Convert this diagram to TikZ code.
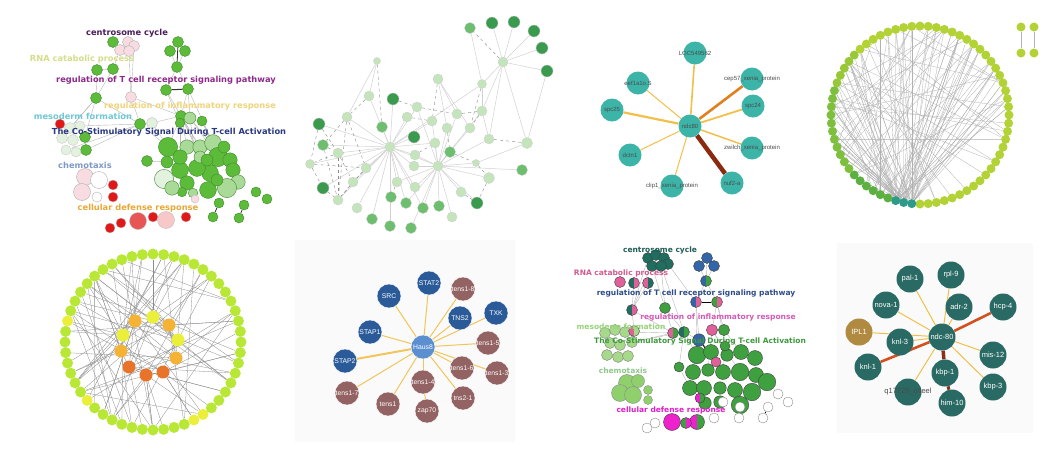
\documentclass[tikz,border=0pt]{standalone}
\usepackage{fontspec}
\setmainfont{DejaVu Sans}
\newfontfamily\arialfont{Liberation Sans}
\usetikzlibrary{positioning}
\pgfdeclarelayer{bg}
\pgfdeclarelayer{edges}
\pgfsetlayers{bg,edges,main}

\definecolor{goGreen}{HTML}{5DBB3A}
\definecolor{goGreenD}{HTML}{3F8A2E}
\definecolor{goLight}{HTML}{A9DA98}
\definecolor{goPale}{HTML}{E3F1DF}
\definecolor{goPink}{HTML}{F8DCE2}
\definecolor{goRed}{HTML}{E01818}
\definecolor{goRose}{HTML}{E85555}
\definecolor{goBlush}{HTML}{F8C8C8}
\definecolor{lbCentroA}{HTML}{4B1E5A}
\definecolor{lbRnaA}{HTML}{D5DE8A}
\definecolor{lbTcrA}{HTML}{8E2A8A}
\definecolor{lbInflA}{HTML}{F0D47C}
\definecolor{lbMesoA}{HTML}{70C8D4}
\definecolor{lbCostA}{HTML}{2B3A80}
\definecolor{lbChemA}{HTML}{7F9AC8}
\definecolor{lbDefA}{HTML}{E8A838}
\definecolor{lbCentroB}{HTML}{1E5E55}
\definecolor{lbRnaB}{HTML}{D45A8E}
\definecolor{lbTcrB}{HTML}{2E4C8A}
\definecolor{lbInflB}{HTML}{D45AB8}
\definecolor{lbMesoB}{HTML}{98D37A}
\definecolor{lbCostB}{HTML}{3E9A3E}
\definecolor{lbChemB}{HTML}{8FC88A}
\definecolor{lbDefB}{HTML}{E020C8}
\definecolor{cgTeal}{HTML}{1F6E60}
\definecolor{cgBlue}{HTML}{3366A8}
\definecolor{cgPink}{HTML}{E0609A}
\definecolor{cgGreen}{HTML}{3EA03E}
\definecolor{cgLime}{HTML}{A6D98A}
\definecolor{cgChem}{HTML}{8FD06C}
\definecolor{cgMag}{HTML}{EE22CC}
\definecolor{nwDark}{HTML}{3A9A4E}
\definecolor{nwMid}{HTML}{6DBE6E}
\definecolor{nwLight}{HTML}{C4E5BC}
\definecolor{xnTeal}{HTML}{3CB4A8}
\definecolor{xnGold}{HTML}{F2C04A}
\definecolor{xnOrange}{HTML}{E0801E}
\definecolor{xnBrown}{HTML}{8B2A10}
\definecolor{ringLime}{HTML}{B2D236}
\definecolor{ringTeal}{HTML}{2E9A8A}
\definecolor{ringGreen}{HTML}{5CB040}
\definecolor{ringMid}{HTML}{7EC03E}
\definecolor{ringLg}{HTML}{98C838}
\definecolor{hubLime}{HTML}{B8E835}
\definecolor{hubYellow}{HTML}{ECEF3A}
\definecolor{hubOrange}{HTML}{F5B335}
\definecolor{hubDeep}{HTML}{E8742A}
\definecolor{stBlue}{HTML}{2A5A98}
\definecolor{stSky}{HTML}{5B8FD0}
\definecolor{stBrown}{HTML}{936262}
\definecolor{stLink}{HTML}{F2C65A}
\definecolor{wbTeal}{HTML}{2A6A64}
\definecolor{wbGold}{HTML}{B08A40}
\definecolor{wbRed}{HTML}{D4501E}
\definecolor{wbBrown}{HTML}{8B2E1A}

\tikzset{
  dot/.style      = {circle, draw, line width=0.4pt, inner sep=0pt},
  gonode/.style   = {dot, draw=goGreenD, fill=goGreen},
  golink/.style   = {draw=black!28, line width=0.4pt},
  golabel/.style  = {font=\fontsize{8.3}{9}\selectfont\bfseries, inner sep=0pt},
  cgnode/.style   = {dot, draw=black!75, fill=cgGreen},
  cglabel/.style  = {font=\fontsize{7.5}{8}\selectfont\bfseries, inner sep=0pt},
  halfleft/.style = {path picture={\fill[#1] (path picture bounding box.south)
                     rectangle (path picture bounding box.north west);}},
  nwnode/.style   = {dot, draw=black!20, line width=0.3pt},
  nwline/.style   = {draw=black!18, line width=0.5pt},
  nwdash/.style   = {draw=black!45, dashed, line width=0.4pt},
  xndot/.style    = {circle, fill=xnTeal, inner sep=0pt, minimum size=23},
  xntext/.style   = {font=\arialfont\fontsize{6}{6}\selectfont, text=black!70, inner sep=0pt},
  xnlink/.style   = {draw=xnGold},
  ringdot/.style  = {circle, inner sep=0pt, minimum size=9},
  ringline/.style = {draw=black!30, line width=0.3pt},
  hubdot/.style   = {circle, inner sep=0pt, minimum size=11, fill=hubLime},
  hubline/.style  = {draw=black!45, line width=0.3pt},
  stdot/.style    = {circle, inner sep=0pt, minimum size=24, draw=white, line width=0.4pt},
  sttext/.style   = {font=\arialfont\fontsize{6.8}{7}\selectfont, text=white, inner sep=0pt},
  stlink/.style   = {draw=stLink, line width=1pt},
  wbdot/.style    = {circle, inner sep=0pt, minimum size=27, fill=wbTeal},
  wbtext/.style   = {font=\arialfont\fontsize{7.5}{8}\selectfont, text=white, inner sep=0pt},
  wblink/.style   = {draw=xnGold, line width=1pt},
}

\begin{document}
\begin{tikzpicture}[x=1pt, y=-1pt]
  \useasboundingbox (0,0) rectangle (1060,450);
  \begin{pgfonlayer}{bg}
    \fill[white] (0,0) rectangle (1060,450);
    \fill[black!2] (295,240) rectangle (515,442);
    \fill[black!2] (837,243) rectangle (1033,433);
  \end{pgfonlayer}

  % first enrichment map
  \foreach \x/\y/\s [count=\i] in {113/42/11, 178/42/11, 170/51/11, 185/51/11,
      177/67/11, 97/70/11, 113/69/11, 166/90/11, 188/89/11, 96/98/11, 140/124/11,
      181/116/11, 202/121/10, 85/137/11, 86/150/11, 147/161/11, 256/192/10,
      267/199/10, 219/203/10, 213/217/10, 244/205/10, 239/218/10}
    \node[gonode, minimum size=\s] (ga\i) at (\x,\y) {};
  \foreach \x/\y/\s/\c [count=\i] in {168/147/16/goGreen, 187/147/12/goLight,
      200/147/12/goLight, 213/143/14/goLight, 218/157/16/goGreen, 230/160/12/goGreen,
      233/170/12/goGreen, 238/182/12/goLight, 227/188/16/goLight, 208/190/14/goGreen,
      210/173/14/goGreen, 197/168/14/goGreen, 180/170/14/goGreen, 180/157/12/goGreen,
      167/162/10/goGreen, 187/183/12/goGreen, 193/193/8/goLight, 182/192/8/goGreen,
      200/157/10/goLight, 207/160/10/goGreen, 190/118/10/goLight, 180/123/8/goGreen,
      217/180/10/goGreen, 164/179/16/goPale, 172/188/12/goLight, 224/147/10/goGreen}
    \node[gonode, fill=\c, minimum size={1.2*\s}] (gc\i) at (\x,\y) {};
  \foreach \x/\y [count=\i] in {120/50, 128/42, 134/46, 129/51, 131/97}
    \node[dot, draw=black!30, fill=goPink, minimum size=11] (pk\i) at (\x,\y) {};
  \node[dot, draw=black!25, fill=goPale, minimum size=11] (pl1) at (152,123) {};
  \foreach \x/\y/\s [count=\i] in {70/128/11, 80/126/10, 62/138/11, 73/140/11,
      66/150/10, 76/152/10}
    \node[dot, draw=black!20, fill=goPale, minimum size=\s] (ms\i) at (\x,\y) {};
  \foreach \x/\y/\s/\c [count=\i] in {60/124/10/goRed, 113/185/10/goRed,
      113/197/10/goRed, 186/217/10/goRed, 153/217/10/goRed, 121/223/10/goRed,
      110/228/10/goRed, 138/221/17/goRose, 166/220/17/goBlush, 195/199/8/goPink}
    \node[dot, draw=black!25, fill=\c, minimum size=\s] (rd\i) at (\x,\y) {};
  \foreach \x/\y/\s/\c [count=\i] in {85/177/17/goPink, 99/180/17/white,
      82/192/17/goPink, 97/197/10/white}
    \node[dot, draw=black!30, fill=\c, minimum size=\s] (ch\i) at (\x,\y) {};

  \begin{pgfonlayer}{edges}
    \foreach \a/\b in {ga1/pk1, pk1/ga7, pk4/pk5, pk3/pk5, ga6/ga7, ga6/ga10,
        ga7/ga10, ga10/ga11, ga10/ms1, ga10/ms3, ga10/ga14, ga11/pl1, ga11/ms2,
        ga11/ga15, ga11/ms5, pl1/ga12, pl1/gc1, ga11/gc1, ga5/ga8, ga5/ga9, ga3/ga5,
        ga4/ga5, ga8/ga12, ga9/ga12, ga9/gc21, ga12/gc1, ga12/gc2, ga12/gc3, ga13/gc4,
        gc21/gc5, gc21/gc12, gc22/gc13, ga12/gc11, ga16/gc15, ga14/ga15, pk5/ga11,
        pk5/ga12, ga12/gc14, ga12/gc19, ga12/gc20, ga13/gc5, gc24/gc25, gc9/gc10,
        ms4/ms6, ga8/gc22, ga9/gc4, gc21/gc7}
      \draw[golink] (\a) -- (\b);
    \draw[black!80, line width=1pt] (ga8) -- (ga9);
    \draw[black!80, line width=0.8pt] (ga2) -- (ga5);
    \draw[black!80, line width=0.8pt] (ga19) -- (ga20);
    \draw[black!80, line width=0.8pt] (ga21) -- (ga22);
  \end{pgfonlayer}

  \node[golabel, text=lbCentroA] (l1a) at (127,33) {centrosome cycle};
  \node[golabel, text=lbRnaA] (l1b) at (82,59) {RNA catabolic process};
  \node[golabel, text=lbTcrA] (l1c) at (166,80) {regulation of T cell receptor signaling pathway};
  \node[golabel, text=lbInflA] (l1d) at (190,106) {regulation of inflammatory response};
  \node[golabel, text=lbMesoA] (l1e) at (83,116) {mesoderm formation};
  \node[golabel, text=lbCostA] (l1f) at (169,132) {The Co-Stimulatory Signal During T-cell Activation};
  \node[golabel, text=lbChemA] (l1g) at (85,165) {chemotaxis};
  \node[golabel, text=lbDefA] (l1h) at (138,208) {cellular defense response};

  % interaction network, shades of green
  \foreach \x/\y/\c/\s [count=\i] in {492/23/nwDark/12, 514/22/nwDark/12,
      534/31/nwDark/12, 542/48/nwDark/12, 547/71/nwDark/12, 470/28/nwMid/11,
      503/62/nwLight/10, 482/84/nwLight/9, 438/79/nwLight/10, 377/61/nwLight/7,
      369/96/nwLight/10, 393/99/nwDark/12, 347/117/nwLight/10, 319/124/nwDark/12,
      382/127/nwMid/11, 417/107/nwLight/10, 407/117/nwLight/10, 432/121/nwLight/10,
      457/114/nwLight/10, 482/111/nwLight/10, 470/128/nwLight/10, 447/128/nwLight/10,
      489/139/nwLight/10, 527/143/nwLight/11, 414/137/nwDark/12, 323/145/nwMid/11,
      390/147/nwLight/10, 415/155/nwLight/10, 435/143/nwLight/10, 450/152/nwMid/11,
      338/153/nwLight/10, 310/164/nwLight/9, 366/168/nwLight/10, 414/166/nwLight/10,
      438/166/nwLight/10, 476/163/nwLight/7, 522/170/nwMid/11, 353/182/nwLight/10,
      397/182/nwLight/10, 415/187/nwLight/10, 489/178/nwLight/11, 323/188/nwDark/12,
      461/192/nwLight/10, 338/200/nwLight/10, 391/197/nwMid/11, 406/203/nwMid/11,
      423/208/nwMid/11, 439/206/nwMid/11, 477/203/nwDark/12, 357/208/nwLight/10,
      372/219/nwMid/11, 452/217/nwLight/10, 390/226/nwMid/11, 411/228/nwMid/11}
    \node[nwnode, fill=\c, minimum size=\s] (nw\i) at (\x,\y) {};
  \begin{pgfonlayer}{edges}
    \foreach \a/\b in {7/1, 7/2, 7/3, 7/4, 7/5, 6/8, 7/8, 7/20, 7/23, 7/24, 8/20,
        8/27, 9/21, 9/19, 9/22, 10/11, 10/13, 11/27, 12/27, 13/27, 15/27, 16/27,
        17/27, 18/27, 25/27, 26/27, 28/27, 29/27, 31/27, 32/27, 33/27, 34/27, 38/27,
        39/27, 40/27, 44/27, 45/27, 46/27, 47/27, 50/27, 51/27, 53/27, 14/27, 42/27,
        35/16, 35/18, 35/19, 35/21, 35/22, 35/28, 35/29, 35/30, 35/34, 35/36, 35/39,
        35/40, 35/41, 35/43, 35/46, 35/47, 35/48, 35/49, 35/52, 35/54, 35/20, 35/37,
        35/23, 27/35, 24/36, 20/23, 5/24}
      \draw[nwline] (nw\a) -- (nw\b);
    \foreach \a/\b in {13/26, 13/33, 13/44, 31/32, 31/44, 32/33, 33/38, 38/44,
        26/31, 14/31, 14/32, 32/42, 42/44, 33/44, 11/13, 10/15, 8/21, 9/18, 19/20,
        20/21, 36/41, 23/24, 22/30, 30/36, 12/16, 16/19, 41/49, 43/49, 17/18,
        28/29, 39/45, 7/6, 26/44, 31/38}
      \draw[nwdash] (nw\a) -- (nw\b);
  \end{pgfonlayer}

  % star around ndc80
  \node[xndot, label={[xntext]center:ndc80}] (ndc) at (690,126) {};
  \node[xndot, label={[xntext]center:LOC549562}] (loc) at (695,53) {};
  \node[xndot, label={[xntext]center:eef1a1o.S}] (eef) at (638,83) {};
  \node[xndot, label={[xntext]center:cep57\_xenia\_protein}] (cep) at (752,79) {};
  \node[xndot, label={[xntext]center:spc25}] (spctf) at (612,110) {};
  \node[xndot, label={[xntext]center:spc24}] (spctt) at (753,106) {};
  \node[xndot, label={[xntext]center:dctn1}] (dct) at (630,155) {};
  \node[xndot, label={[xntext]center:zwilch\_xenia\_protein}] (zwi) at (752,148) {};
  \node[xndot, label={[xntext]center:clip1\_xenia\_protein}] (cli) at (672,186) {};
  \node[xndot, label={[xntext]center:nuf2-a}] (nuf) at (732,183) {};
  \begin{pgfonlayer}{edges}
    \draw[xnlink, line width=1.6pt] (ndc) -- (loc);
    \draw[xnlink, line width=1pt] (ndc) -- (eef);
    \draw[xnOrange, line width=2.6pt] (ndc) -- (cep);
    \draw[xnlink, line width=2.2pt] (ndc) -- (spctf);
    \draw[xnlink, line width=1.8pt] (ndc) -- (spctt);
    \draw[xnlink, line width=1pt] (ndc) -- (dct);
    \draw[xnlink, line width=1.5pt] (ndc) -- (zwi);
    \draw[xnlink, line width=1pt] (ndc) -- (cli);
    \draw[xnBrown, line width=4.5pt] (ndc) -- (nuf);
  \end{pgfonlayer}

  % circular layout, right
  \foreach \i in {0,...,67}{
    \ifnum\i<18 \def\rc{ringLime}\else
    \ifnum\i<21 \def\rc{ringTeal}\else
    \ifnum\i<27 \def\rc{ringGreen}\else
    \ifnum\i<38 \def\rc{ringMid}\else
    \ifnum\i<43 \def\rc{ringLg}\else \def\rc{ringLime}\fi\fi\fi\fi\fi
    \node[ringdot, fill=\rc] (cr\i) at ({920+89*cos(\i*(360/68))},{115+89*sin(\i*(360/68))}) {};
  }
  \node[ringdot, fill=ringLime] (pa) at (1021,27) {};
  \node[ringdot, fill=ringLime] (pb) at (1034,27) {};
  \node[ringdot, fill=ringLime] (pc) at (1021,53) {};
  \node[ringdot, fill=ringLime] (pd) at (1034,53) {};
  \begin{pgfonlayer}{edges}
    \pgfmathsetseed{11}
    \foreach \k in {1,...,75}{
      \pgfmathtruncatemacro\ia{18+mod(\k,3)}
      \pgfmathrandominteger\ib{24}{67}
      \draw[ringline] (cr\ia) -- (cr\ib);
    }
    \foreach \k in {1,...,45}{
      \pgfmathrandominteger\ia{21}{50}
      \pgfmathrandominteger\ic{14}{40}
      \pgfmathtruncatemacro\ib{mod(\ia+\ic,68)}
      \draw[ringline] (cr\ia) -- (cr\ib);
    }
    \draw[ringline, line width=0.6pt] (pa) -- (pc);
    \draw[ringline, line width=0.6pt] (pb) -- (pd);
  \end{pgfonlayer}

  % circular layout with hubs, left
  \foreach \i in {0,...,51}{
    \ifnum\i=8 \def\rc{hubYellow}\else
    \ifnum\i=9 \def\rc{hubYellow}\else
    \ifnum\i=20 \def\rc{hubYellow}\else
    \ifnum\i=28 \def\rc{hubYellow}\else \def\rc{hubLime}\fi\fi\fi\fi
    \node[hubdot, fill=\rc] (yr\i) at ({153+88*cos(\i*(360/52))},{342+88*sin(\i*(360/52))}) {};
  }
  \foreach \x/\y/\c [count=\i] in {135/321/hubOrange, 153/317/hubYellow,
      169/325/hubOrange, 123/335/hubYellow, 178/340/hubYellow, 121/351/hubOrange,
      176/358/hubOrange, 129/367/hubDeep, 146/375/hubDeep, 163/372/hubDeep}
    \node[hubdot, fill=\c, minimum size=13] (in\i) at (\x,\y) {};
  \begin{pgfonlayer}{edges}
    \pgfmathsetseed{5}
    \foreach \k in {1,...,70}{
      \pgfmathtruncatemacro\ia{mod(\k,10)+1}
      \pgfmathrandominteger\ib{0}{51}
      \draw[hubline] (in\ia) -- (yr\ib);
    }
    \foreach \k in {1,...,22}{
      \pgfmathrandominteger\ia{0}{51}
      \pgfmathrandominteger\ic{12}{38}
      \pgfmathtruncatemacro\ib{mod(\ia+\ic,52)}
      \draw[hubline] (yr\ia) -- (yr\ib);
    }
    \foreach \a/\b in {1/3, 2/5, 8/9, 9/10, 4/6, 6/8, 3/7}
      \draw[hubline] (in\a) -- (in\b);
  \end{pgfonlayer}

  % star around Haus8
  \node[stdot, fill=stSky, label={[sttext]center:Haus8}] (haus) at (423,347) {};
  \node[stdot, fill=stBlue, label={[sttext]center:STAT2}] (stat) at (429,283) {};
  \node[stdot, fill=stBlue, label={[sttext]center:SRC}] (src) at (389,296) {};
  \node[stdot, fill=stBlue, label={[sttext]center:STAP1}] (stapa) at (370,332) {};
  \node[stdot, fill=stBlue, label={[sttext]center:STAP2}] (stapb) at (345,361) {};
  \node[stdot, fill=stBlue, label={[sttext]center:TNS2}] (tns) at (460,318) {};
  \node[stdot, fill=stBlue, label={[sttext]center:TXK}] (txk) at (496,313) {};
  \node[stdot, fill=stBrown, label={[sttext]center:tens1-8}] (tea) at (463,289) {};
  \node[stdot, fill=stBrown, label={[sttext]center:tens1-5}] (teb) at (488,343) {};
  \node[stdot, fill=stBrown, label={[sttext]center:tens1-6}] (tec) at (462,368) {};
  \node[stdot, fill=stBrown, label={[sttext]center:tens1-3}] (ted) at (497,373) {};
  \node[stdot, fill=stBrown, label={[sttext]center:tens1-4}] (tee) at (423,382) {};
  \node[stdot, fill=stBrown, label={[sttext]center:tns2-1}] (tef) at (463,398) {};
  \node[stdot, fill=stBrown, label={[sttext]center:zap70}] (zap) at (427,411) {};
  \node[stdot, fill=stBrown, label={[sttext]center:tens1}] (teg) at (388,404) {};
  \node[stdot, fill=stBrown, label={[sttext]center:tens1-7}] (teh) at (347,393) {};
  \begin{pgfonlayer}{edges}
    \foreach \b in {stat, src, stapa, tns, txk, tea, teb, tec, ted, tee, tef, teg, teh}
      \draw[stlink] (haus) -- (\b);
    \draw[stlink, line width=2pt] (haus) -- (stapb);
    \draw[stlink] (tee) -- (zap);
  \end{pgfonlayer}

  % second enrichment map
  \foreach \x/\y [count=\i] in {648/258, 656/255, 664/258, 668/264, 652/266, 661/266}
    \node[cgnode, fill=cgTeal, minimum size=11] (ct\i) at (\x,\y) {};
  \foreach \x/\y [count=\i] in {707/258, 699/266, 714/266}
    \node[cgnode, fill=cgBlue, minimum size=11] (cb\i) at (\x,\y) {};
  \node[cgnode, fill=cgGreen, halfleft=cgBlue, minimum size=11] (cbp) at (706,281) {};
  \node[cgnode, fill=cgPink, minimum size=11] (cp1) at (620,282) {};
  \node[cgnode, fill=cgPink, halfleft=cgTeal, minimum size=11] (cp2) at (634,283) {};
  \node[cgnode, fill=cgTeal, halfleft=cgPink, minimum size=11] (cp3) at (648,283) {};
  \node[cgnode, fill=cgPink, halfleft=cgBlue, minimum size=11] (cq1) at (696,302) {};
  \node[cgnode, fill=cgPink, halfleft=cgGreen, minimum size=11] (cq2) at (717,302) {};
  \node[cgnode, fill=cgPink, halfleft=cgTeal, minimum size=11] (cr1) at (632,310) {};
  \node[cgnode, fill=cgGreen, minimum size=11] (cr2) at (665,308) {};
  \foreach \x/\y [count=\i] in {605/333, 615/330, 625/332, 610/343, 620/345,
      632/342, 607/355, 618/357, 628/356}
    \node[cgnode, draw=black!50, fill=cgLime, minimum size=11] (cm\i) at (\x,\y) {};
  \node[cgnode, fill=cgLime, halfleft=cgPink, minimum size=11] (cm10) at (634,331) {};
  \node[cgnode, fill=cgGreen, halfleft=cgPink, minimum size=11] (cs1) at (673,333) {};
  \node[cgnode, fill=cgGreen, halfleft=cgTeal, minimum size=11] (cs2) at (684,332) {};
  \node[cgnode, minimum size=10] (cg0) at (679,367) {};
  \foreach \x/\y/\s/\c [count=\i] in {697/355/14/cgGreen, 711/352/12/cgGreen,
      727/355/10/cgGreen, 741/352/12/cgGreen, 755/358/12/cgGreen, 693/372/12/cgGreen,
      708/370/10/cgGreen, 723/372/12/cgGreen, 740/372/14/cgGreen, 756/375/12/cgGreen,
      767/382/14/cgGreen, 690/388/12/cgGreen, 704/388/12/cgGreen, 720/388/10/cgGreen,
      735/390/12/cgGreen, 752/392/14/cgGreen, 705/403/10/cgGreen, 740/405/14/cgGreen,
      720/402/10/cgGreen, 699/340/10/cgBlue, 712/330/9/cgPink, 724/330/9/cgGreen,
      716/362/8/cgPink, 725/346/8/cgGreen}
    \node[cgnode, fill=\c, minimum size={1.25*\s}] (ck\i) at (\x,\y) {};
  \foreach \x/\y/\s [count=\i] in {627/383/17, 638/381/13, 620/393/17, 633/395/17,
      648/390/9, 648/400/9}
    \node[cgnode, draw=black!45, fill=cgChem, minimum size=\s] (cc\i) at (\x,\y) {};
  \node[cgnode, fill=cgGreen, halfleft=cgMag, minimum size=10] (cx1) at (700,398) {};
  \node[cgnode, fill=cgMag, minimum size=17] (cmg1) at (672,422) {};
  \node[cgnode, fill=cgGreen, halfleft=cgMag, minimum size=15] (cmg2) at (697,422) {};
  \node[cgnode, fill=cgMag, halfleft=cgGreen, minimum size=11] (cmg3) at (686,423) {};
  \foreach \x/\y [count=\i] in {655/423, 647/428, 714/418, 723/402, 740/407,
      739/418, 768/407, 763/418, 778/394, 788/402}
    \node[cgnode, draw=black!45, fill=white, minimum size=10] (cw\i) at (\x,\y) {};
  \begin{pgfonlayer}{edges}
    \foreach \a/\b in {ct5/cr2, ct6/cr2, ct1/cr1, ct2/cr1, cp3/cr1, cp2/cr1,
        cr1/cm10, cr1/cs1, cr2/cs1, cr2/cs2, ct6/cs2, cb2/cbp, cb3/cbp, cb1/cbp,
        cbp/cq1, cbp/cq2, cq2/ck21, cq1/ck20, cq2/ck22, cs2/ck20, cs2/ck1, cm3/cs1,
        cm6/cs1, cs1/cs2, ck20/ck6, ck21/ck7, ck22/ck8, ck21/ck9, cs2/cg0, cg0/ck12,
        ck17/cx1, cx1/cmg2, cm6/cs2, ck23/ck7, ck20/ck2, ck21/ck3, ck22/ck4,
        cq2/ck3, cq1/ck1, ct4/cq1, cm10/cm6}
      \draw[golink] (\a) -- (\b);
    \draw[black, line width=1pt] (cq1) -- (cq2);
    \draw[black, line width=0.8pt] (cw5) -- (cw6);
    \draw[black, line width=0.8pt] (cw7) -- (cw8);
    \draw[black, line width=0.8pt] (ck20) -- (ck23);
  \end{pgfonlayer}

  \node[cglabel, text=lbCentroB] (l2a) at (660,250) {centrosome cycle};
  \node[cglabel, text=lbRnaB] (l2b) at (621,273) {RNA catabolic process};
  \node[cglabel, text=lbTcrB] (l2c) at (696,293) {regulation of T cell receptor signaling pathway};
  \node[cglabel, text=lbInflB] (l2d) at (718,317) {regulation of inflammatory response};
  \node[cglabel, text=lbMesoB] (l2e) at (621,327) {mesoderm formation};
  \node[cglabel, text=lbCostB] (l2f) at (700,341) {The Co-Stimulatory Signal During T-cell Activation};
  \node[cglabel, text=lbChemB] (l2g) at (623,371) {chemotaxis};
  \node[cglabel, text=lbDefB] (l2h) at (671,410) {cellular defense response};

  % star around ndc-80
  \node[wbdot, label={[wbtext]center:ndc-80}] (hub) at (942,337) {};
  \node[wbdot, label={[wbtext]center:pal-1}] (pal) at (910,279) {};
  \node[wbdot, label={[wbtext]center:rpl-9}] (rpl) at (951,275) {};
  \node[wbdot, label={[wbtext]center:nova-1}] (nova) at (886,305) {};
  \node[wbdot, label={[wbtext]center:adr-2}] (adr) at (959,307) {};
  \node[wbdot, label={[wbtext]center:hcp-4}] (hcp) at (1003,307) {};
  \node[wbdot, fill=wbGold, label={[wbtext]center:IPL1}] (ipl) at (859,332) {};
  \node[wbdot, label={[wbtext]center:knl-3}] (knlc) at (900,342) {};
  \node[wbdot, label={[wbtext]center:knl-1}] (knla) at (868,367) {};
  \node[wbdot, label={[wbtext]center:mis-12}] (mis) at (993,355) {};
  \node[wbdot, label={[wbtext]center:kbp-1}] (kbpa) at (945,373) {};
  \node[wbdot, label={[wbtext]center:kbp-3}] (kbpc) at (993,387) {};
  \node[wbdot, label={[wbtext, text=black!70]center:q17728\_caeel}] (qca) at (908,392) {};
  \node[wbdot, label={[wbtext]center:him-10}] (him) at (952,403) {};
  \begin{pgfonlayer}{edges}
    \foreach \b in {pal, rpl, nova, adr, ipl, knlc, mis, kbpc, qca}
      \draw[wblink] (hub) -- (\b);
    \draw[wbRed, line width=2.6pt] (hub) -- (hcp);
    \draw[wbRed, line width=2.6pt] (hub) -- (knla);
    \draw[wbBrown, line width=3.5pt] (hub) -- (kbpa);
    \draw[wbBrown, line width=3pt] (kbpa) -- (him);
  \end{pgfonlayer}
\end{tikzpicture}
\end{document}
